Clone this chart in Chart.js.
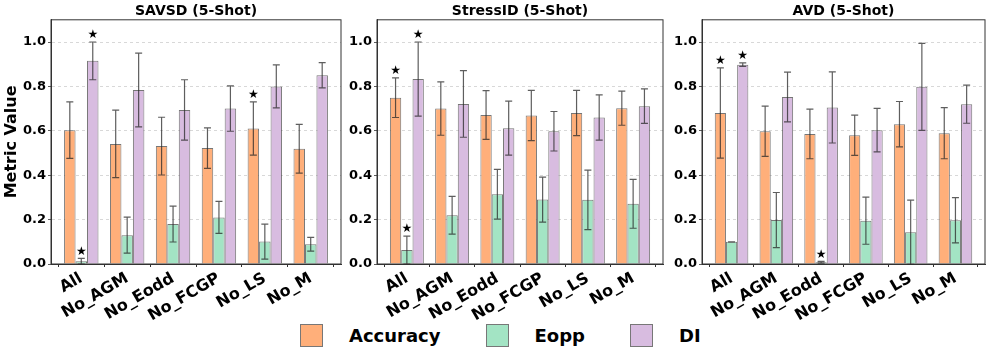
<!DOCTYPE html>
<html>
<head>
<meta charset="utf-8">
<script src="https://cdn.jsdelivr.net/npm/chart.js@4.4.1/dist/chart.umd.min.js"></script>
<style>
    body { margin: 0; background: #fff; width: 996px; height: 359px; position: relative; overflow: hidden; font-family: "DejaVu Sans", sans-serif; }
    canvas { position: absolute; top: 0; }
    #legend { position: absolute; left: 300px; top: 324px; display: flex; align-items: center; font-weight: bold; font-size: 18px; color: #000; }
    .patch { width: 21px; height: 21px; border: 1px solid #777; margin-right: 26px; }
    .label { margin-right: 45px; }
</style>
</head>
<body>
<canvas id="c1" width="344" height="322" style="left:0px"></canvas>
<canvas id="c2" width="326" height="322" style="left:340px"></canvas>
<canvas id="c3" width="323" height="322" style="left:665px"></canvas>
<div id="legend"></div>

<script>
const categories = ['All', 'No_AGM', 'No_Eodd', 'No_FCGP', 'No_LS', 'No_M'];
const seriesNames = ['Accuracy', 'Eopp', 'DI'];
const yTicks = [0, 0.2, 0.4, 0.6, 0.8, 1.0];

// SAVSD
const savsdAcc = [0.603, 0.541, 0.531, 0.522, 0.610, 0.519];
const savsdAccErr = [0.127, 0.152, 0.130, 0.091, 0.120, 0.110];
const savsdEopp = [0.012, 0.130, 0.180, 0.210, 0.101, 0.089];
const savsdEoppErr = [0.013, 0.081, 0.081, 0.072, 0.079, 0.031];
const savsdDI = [0.915, 0.784, 0.694, 0.700, 0.800, 0.850];
const savsdDIErr = [0.085, 0.166, 0.136, 0.102, 0.097, 0.057];
const savsdStars = [[4], [0], [0]]; // category index per series

// StressID
const stressAcc = [0.749, 0.700, 0.671, 0.669, 0.680, 0.702];
const stressAccErr = [0.089, 0.120, 0.110, 0.113, 0.102, 0.077];
const stressEopp = [0.063, 0.220, 0.314, 0.290, 0.289, 0.271];
const stressEoppErr = [0.063, 0.085, 0.112, 0.101, 0.134, 0.110];
const stressDI = [0.833, 0.721, 0.612, 0.598, 0.660, 0.711];
const stressDIErr = [0.167, 0.150, 0.122, 0.089, 0.102, 0.078];
const stressStars = [[0], [0], [0]];

// AVD
const avdAcc = [0.680, 0.598, 0.586, 0.580, 0.630, 0.589];
const avdAccErr = [0.203, 0.113, 0.112, 0.091, 0.102, 0.115];
const avdEopp = [0.100, 0.198, 0.008, 0.195, 0.143, 0.197];
const avdEoppErr = [0.000, 0.124, 0.004, 0.106, 0.145, 0.102];
const avdDI = [0.898, 0.752, 0.705, 0.603, 0.798, 0.720];
const avdDIErr = [0.008, 0.112, 0.160, 0.098, 0.196, 0.086];
const avdStars = [[0], [2], [0]];

const colors = ['#ffaf7a', '#a3e4c4', '#d8bce0'];
const FONT = '"DejaVu Sans", sans-serif';

// error bars, significance stars and the top/right frame
const extrasPlugin = {
    id: 'extras',
    afterDatasetsDraw(chart) {
        const c = chart.ctx;
        const y = chart.scales.y;
        const area = chart.chartArea;
        chart.data.datasets.forEach((ds, di) => {
            const meta = chart.getDatasetMeta(di);
            meta.data.forEach((bar, i) => {
                const v = ds.data[i].y;
                const e = ds.errors[i];
                const yTop = y.getPixelForValue(v + e);
                const yBot = y.getPixelForValue(v - e);
                c.save();
                c.strokeStyle = 'rgba(40,40,40,0.75)';
                c.lineWidth = 1.2;
                c.beginPath();
                c.moveTo(bar.x, yTop);
                c.lineTo(bar.x, yBot);
                c.moveTo(bar.x - 3.5, yTop);
                c.lineTo(bar.x + 3.5, yTop);
                c.moveTo(bar.x - 3.5, yBot);
                c.lineTo(bar.x + 3.5, yBot);
                c.stroke();
                c.restore();
                if (ds.stars.includes(i)) {
                    c.save();
                    c.fillStyle = '#000';
                    c.font = '12px ' + FONT;
                    c.textAlign = 'center';
                    c.textBaseline = 'middle';
                    c.fillText('★', bar.x, y.getPixelForValue(v + e + 0.03));
                    c.restore();
                }
            });
        });
        c.save();
        c.strokeStyle = '#333';
        c.lineWidth = 1;
        c.strokeRect(area.left, area.top, area.right - area.left, area.bottom - area.top);
        c.restore();
    }
};

function makeChart(id, title, acc, accErr, eopp, eoppErr, dI, dIErr, stars, yAxisWidth, showYTitle) {
    const vals = [acc, eopp, dI];
    const errs = [accErr, eoppErr, dIErr];
    const datasets = seriesNames.map((name, s) => ({
        label: name,
        data: vals[s].map((v, i) => ({ x: i, y: v })),
        errors: errs[s],
        stars: stars[s],
        backgroundColor: colors[s],
        borderColor: 'rgba(60,60,60,0.7)',
        borderWidth: 1,
        categoryPercentage: 0.75,
        barPercentage: 1.0
    }));

    return new Chart(document.getElementById(id), {
        type: 'bar',
        data: { datasets: datasets },
        options: {
            responsive: false,
            animation: false,
            devicePixelRatio: 1,
            layout: { padding: { right: 3, left: 0, top: 0, bottom: 0 } },
            plugins: {
                legend: { display: false },
                tooltip: { enabled: false },
                title: {
                    display: true,
                    text: title,
                    fullSize: false,
                    color: '#000',
                    font: { family: FONT, size: 14, weight: 'bold' },
                    padding: { top: 3, bottom: 0 }
                }
            },
            scales: {
                x: {
                    type: 'linear',
                    offset: false,
                    min: -0.66,
                    max: 5.66,
                    afterBuildTicks: (axis) => { axis.ticks = categories.map((c, i) => ({ value: i })); },
                    afterFit: (axis) => { axis.height = 58; },
                    grid: { drawOnChartArea: false, tickLength: 3, tickColor: '#333' },
                    border: { color: '#333', width: 1 },
                    ticks: {
                        autoSkip: false,
                        minRotation: 30,
                        maxRotation: 30,
                        padding: 2,
                        color: '#000',
                        font: { family: FONT, size: 16, weight: 'bold' },
                        callback: (v) => categories[v]
                    }
                },
                y: {
                    min: 0,
                    max: 1.1,
                    afterBuildTicks: (axis) => { axis.ticks = yTicks.map((v) => ({ value: v })); },
                    afterFit: (axis) => { axis.width = yAxisWidth; },
                    grid: {
                        color: '#cfcfcf',
                        lineWidth: 0.8,
                        tickBorderDash: [],
                        tickColor: '#333',
                        tickLength: 3
                    },
                    border: { color: '#333', width: 1, dash: [3, 3] },
                    ticks: {
                        padding: 2,
                        color: '#000',
                        font: { family: FONT, size: 13, weight: 'bold' },
                        callback: (v) => v.toFixed(1)
                    },
                    title: {
                        display: showYTitle,
                        text: 'Metric Value',
                        color: '#000',
                        font: { family: FONT, size: 16, weight: 'bold' },
                        padding: { top: 2, bottom: 0 }
                    }
                }
            }
        },
        plugins: [extrasPlugin]
    });
}

makeChart('c1', 'SAVSD (5-Shot)', savsdAcc, savsdAccErr, savsdEopp, savsdEoppErr, savsdDI, savsdDIErr, savsdStars, 51, true);
makeChart('c2', 'StressID (5-Shot)', stressAcc, stressAccErr, stressEopp, stressEoppErr, stressDI, stressDIErr, stressStars, 37, false);
makeChart('c3', 'AVD (5-Shot)', avdAcc, avdAccErr, avdEopp, avdEoppErr, avdDI, avdDIErr, avdStars, 37, false);

// legend
const legend = document.getElementById('legend');
seriesNames.forEach((name, s) => {
    const patch = document.createElement('div');
    patch.className = 'patch';
    patch.style.background = colors[s];
    const label = document.createElement('div');
    label.className = 'label';
    label.textContent = name;
    legend.appendChild(patch);
    legend.appendChild(label);
});
</script>
</body>
</html>
